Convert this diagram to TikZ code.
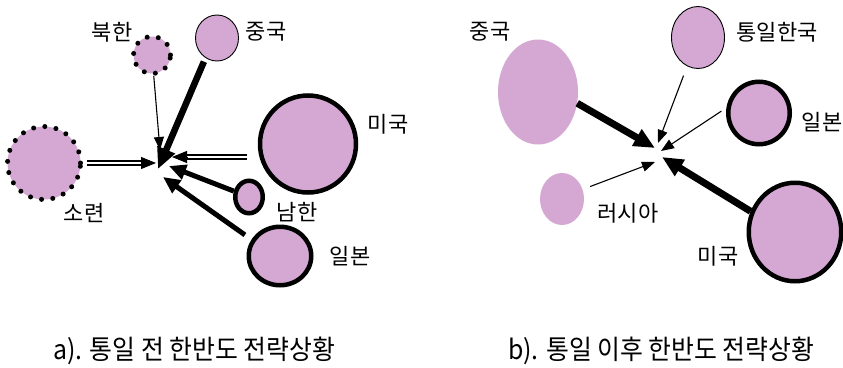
\documentclass[tikz,border=0pt]{standalone}
\usepackage{fontspec}
\newfontfamily\kr{Noto Sans CJK KR}
\newfontfamily\krcap[FakeStretch=0.92]{Noto Sans CJK KR}
\usetikzlibrary{arrows.meta,shapes.geometric}
\definecolor{pinkfill}{RGB}{213,168,211}
\begin{document}
\begin{tikzpicture}[x=1pt,y=-1pt,
  blob/.style={ellipse, fill=pinkfill, inner sep=0pt},
  thinb/.style={draw=black, line width=0.9pt},
  thickb/.style={draw=black, line width=4.5pt},
  dotb/.style={draw=black, line width=5pt, dash pattern=on 0pt off 11.3pt, line cap=round},
  lbl/.style={font=\kr\fontsize{22}{22}\selectfont, inner sep=0pt},
  captxt/.style={font=\krcap\fontsize{27}{27}\selectfont, inner sep=0pt, anchor=west},
  thinarr/.style={line width=1.1pt, -{Triangle[length=13pt,width=10pt]}},
  medarr/.style={line width=5pt, -{Triangle[length=17pt,width=15pt]}},
  bigarr/.style={line width=6.5pt, -{Triangle[length=21pt,width=18pt]}},
  dblline/.style={double, double distance=2.5pt, line width=2pt},
  dbltip/.style={line width=1pt, -{Triangle[length=15pt,width=12pt]}},
]
\useasboundingbox[fill=white] (0,0) rectangle (843,367);

% ---------- left panel ----------
\node[blob, dotb, minimum width=37pt, minimum height=37pt] (bh) at (152,55) {};
\node[blob, thinb, minimum width=43pt, minimum height=46pt] (zg) at (217,38) {};
\node[blob, thickb, minimum width=96pt, minimum height=97pt] (mg) at (308,144) {};
\node[blob, dotb, minimum width=73pt, minimum height=73pt] (sr) at (44,163) {};
\node[blob, thickb, minimum width=27.5pt, minimum height=32.5pt] (nh) at (249,197) {};
\node[blob, thickb, minimum width=62.5pt, minimum height=58.5pt] (jb) at (280,256) {};

\node[lbl] (lbh) at (112,32) {북한};
\node[lbl] (lzg) at (266,32) {중국};
\node[lbl] (lmg) at (388,124) {미국};
\node[lbl] (lsr) at (84,213) {소련};
\node[lbl] (lnh) at (297,212) {남한};
\node[lbl] (ljb) at (350,256) {일본};

\coordinate (tBH) at (160,150);
\coordinate (tZG) at (158,169);
\coordinate (tSR) at (156,163);
\coordinate (bSR) at (141,163);
\coordinate (tMG) at (172,157);
\coordinate (bMG) at (187,157);
\coordinate (sMG) at (247,157);
\coordinate (tNH) at (169,166);
\coordinate (tJB) at (163,177);

\draw[thinarr] (bh) -- (tBH);
\draw[bigarr, shorten <=4pt] (zg.-120) -- (tZG);
\draw[dblline, shorten <=4pt] (sr) -- (bSR);
\draw[dbltip] (bSR) -- (tSR);
\draw[dblline] (sMG) -- (bMG);
\draw[dbltip] (bMG) -- (tMG);
\draw[medarr] (nh) -- (tNH);
\draw[medarr, shorten <=8pt] (jb.150) -- (tJB);

% ---------- right panel ----------
\node[blob, minimum width=80pt, minimum height=105pt] (zg2) at (538,92) {};
\node[blob, thinb, minimum width=53pt, minimum height=62pt] (tk) at (698,37.5) {};
\node[blob, thickb, minimum width=61.5pt, minimum height=62.5pt] (jb2) at (759,113) {};
\node[blob, minimum width=44pt, minimum height=52pt] (rs) at (562,199) {};
\node[blob, thickb, minimum width=92.5pt, minimum height=98.5pt] (mg2) at (795,232) {};

\node[lbl] (lzg2) at (490,32) {중국};
\node[lbl] (ltk) at (777,32) {통일한국};
\node[lbl] (ljb2) at (822,122) {일본};
\node[lbl] (lrs) at (628,213) {러시아};
\node[lbl] (lmg2) at (718,256) {미국};

\coordinate (tZG2) at (655,148);
\coordinate (tTK) at (658,143);
\coordinate (tJB2) at (661,151);
\coordinate (tRS) at (655,162);
\coordinate (tMG2) at (662,157);

\draw[line width=7pt, -{Triangle[length=21pt,width=18pt]}] (zg2.-16) -- (tZG2);
\draw[thinarr, shorten <=10pt] (tk) -- (tTK);
\draw[thinarr, shorten <=6pt] (jb2.171) -- (tJB2);
\draw[thinarr, shorten <=8pt] (rs.25) -- (tRS);
\draw[line width=7pt, -{Triangle[length=21pt,width=18pt]}] (mg2.155) -- (tMG2);

% ---------- captions ----------
\node[captxt] (capa) at (53,351) {a). 통일 전 한반도 전략상황};
\node[captxt] (capb) at (508,351) {b). 통일 이후 한반도 전략상황};
\end{tikzpicture}
\end{document}
